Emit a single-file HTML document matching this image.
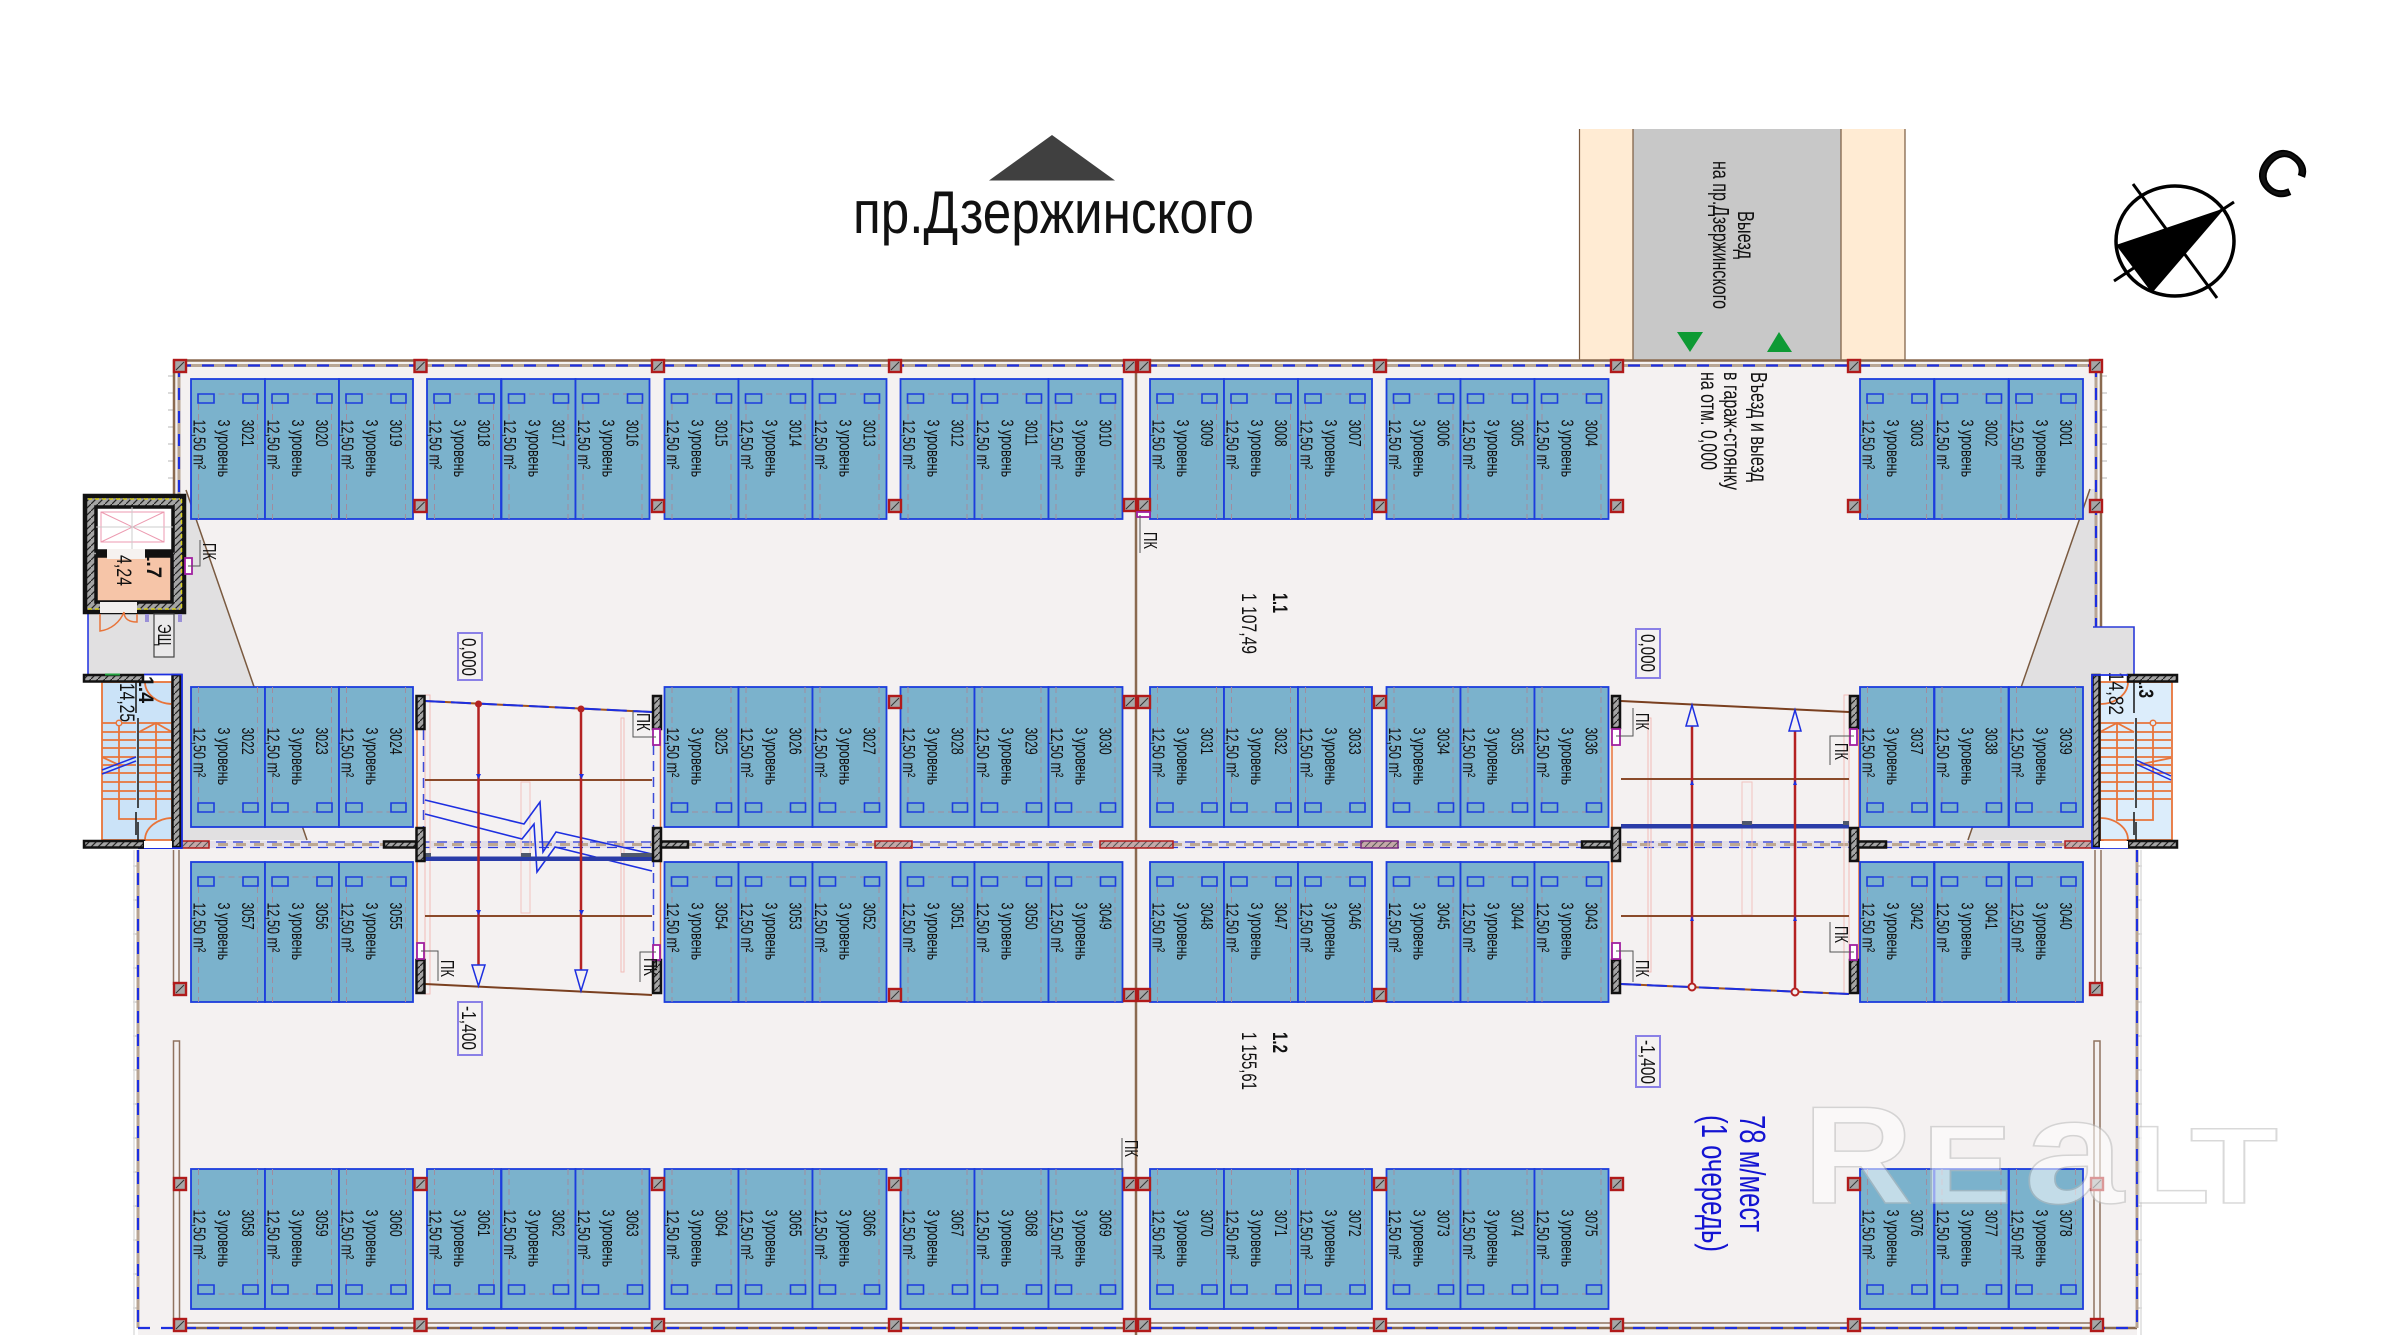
<!DOCTYPE html>
<html><head><meta charset="utf-8"><style>
html,body{margin:0;padding:0;background:#fff}
svg{display:block}
text{font-family:"Liberation Sans","DejaVu Sans",sans-serif;fill:#111}
.n,.l,.a{font-size:18px}
.n{transform:translate(51px,40.5px) rotate(90deg) scaleX(.68)}
.l{transform:translate(27px,40.5px) rotate(90deg) scaleX(.7)}
.a{transform:translate(2.5px,40.5px) rotate(90deg) scaleX(.7)}
</style></head><body>
<svg xmlns="http://www.w3.org/2000/svg" width="2400" height="1335" viewBox="0 0 2400 1335">
<defs>
<pattern id="h" width="7" height="7" patternUnits="userSpaceOnUse"><rect width="7" height="7" fill="#a4a4a4"/><path d="M0 7L7 0" stroke="#222" stroke-width="1.2"/></pattern>
<pattern id="hr" width="7" height="7" patternUnits="userSpaceOnUse"><rect width="7" height="7" fill="#c4a8a8"/><path d="M0 7L7 0" stroke="#555" stroke-width="1"/></pattern>
<g id="k"><rect x="1" y="1" width="12" height="12" fill="#a6a6a6" stroke="#b01a1a" stroke-width="2.4"/><path d="M3 11L11 3" stroke="#333"/></g>
<g id="t"><rect width="74" height="140" fill="#7BB2CC" stroke="#1c3ddd" stroke-width="1.8"/><path d="M7.5 15H66.5M7.5 15V140M66.5 15V140" fill="none" stroke="#a08c9e" stroke-dasharray="6 4"/><path d="M7 15h16v9H7zM52 15h15v9H52z" fill="none" stroke="#1c3ddd" stroke-width="1.6"/></g>
<g id="b"><rect width="74" height="140" fill="#7BB2CC" stroke="#1c3ddd" stroke-width="1.8"/><path d="M7.5 125H66.5M7.5 0V125M66.5 0V125" fill="none" stroke="#a08c9e" stroke-dasharray="6 4"/><path d="M7 116h16v9H7zM52 116h15v9H52z" fill="none" stroke="#1c3ddd" stroke-width="1.6"/></g>
</defs>
<rect width="2400" height="1335" fill="#fff"/>

<!-- road -->
<rect x="1579.500" y="129" width="53.500" height="231" fill="#FFEBD3"/>
<rect x="1841" y="129" width="64" height="231" fill="#FFEBD3"/>
<rect x="1633" y="129" width="208" height="231" fill="#C8C8C8"/>
<path d="M1579.500 129V360M1633 129V360M1841 129V360M1905 129V360" stroke="#7a5a40" stroke-width="1.200"/>
<path d="M1677 332H1703L1690 352Z" fill="#0e9a34"/><path d="M1767 352H1792L1779 332Z" fill="#0e9a34"/>

<!-- floor -->
<rect x="174" y="360" width="1927" height="488" fill="#F4F1F1"/>
<rect x="138" y="848" width="1999" height="487" fill="#F4F1F1"/>
<path d="M186 490L307 840H182V674H88V614H186Z" fill="#E1E0E1"/>
<path d="M2090 489L1968 840H2092V674H2134V627H2096V489Z" fill="#E1E0E1"/>

<!-- fringes -->
<path d="M168 376h6M168 393h6M168 410h6M168 427h6M168 444h6M168 461h6M168 478h6M2101 376h6M2101 393h6M2101 410h6M2101 427h6M2101 444h6M2101 461h6M2101 478h6M2137 866h5M2137 900h5M2137 934h5M2137 968h5M2137 1002h5M2137 1036h5M2137 1070h5M2137 1104h5M2137 1138h5M2137 1172h5M2137 1206h5M2137 1240h5M2137 1274h5M2137 1308h5M133 866h5M133 900h5M133 934h5M133 968h5M133 1002h5M133 1036h5M133 1070h5M133 1104h5M133 1138h5M133 1172h5M133 1206h5M133 1240h5M133 1274h5M133 1308h5" stroke="#cfcfcf" stroke-width="1.500"/>
<path d="M134 850V1335M2141 850V1335" stroke="#ddd" stroke-width="1.500"/>

<!-- outlines -->
<path d="M174 360.500H2102M174 360V494M2101 360V627M174 1328H2137" stroke="#8a6a50" stroke-width="2.500" fill="none"/>
<path d="M179 365.500H2096M179 365V494M2096 365V627M138 850V1328M2137 850V1328" stroke="#b8a594" stroke-width="3" fill="none"/>
<path d="M179 365.500H2096M179 365V494M2096 365V627M138 850V1328M2137 850V1328M138 1328H2137" stroke="#1d2fe0" stroke-width="2.200" fill="none" stroke-dasharray="12 11"/>
<path d="M2093 627H2134V674" stroke="#2a3ad8" stroke-width="1.600" fill="none"/>
<path d="M88 614V674" stroke="#1d2fe0" stroke-width="1.500"/>
<path d="M186 490L307 840M2090 489L1968 840" stroke="#7a5a40" stroke-width="1.500"/>
<path d="M1136 360V1335" stroke="#8a6a50" stroke-width="2.500"/>
<!-- double brown columns lines -->
<path d="M173.500 850V985M179 850V985M2095 850V985M2101 850V985M173.500 1328V1041H179.500V1328M2094 1328V1041H2100V1328M179 1323H2094" stroke="#8f7360" stroke-width="1.500" fill="none"/>

<!-- centre band -->
<rect x="182" y="841" width="1910" height="7" fill="#e4dfe8"/>
<path d="M182 844.500H2092" stroke="#bda892" stroke-width="3" stroke-dasharray="10 8"/>
<path d="M182 842H2092M182 847.500H2092" stroke="#2a3ad8" stroke-width="1.300" stroke-dasharray="10 7"/>
<g fill="url(#hr)" stroke="#b01a1a" stroke-width="1.500"><rect x="875" y="841" width="37" height="7"/><rect x="1100" y="841" width="73" height="7"/><rect x="1361" y="841" width="37" height="7" stroke="#7a2a80"/><rect x="173" y="841" width="36" height="7"/><rect x="2065" y="841" width="38" height="7"/></g>
<path d="M138 848H182" stroke="#1d2fe0" stroke-width="2"/>

<!-- left ramp -->
<g fill="none">
<path d="M417 695V994M660.500 695V994" stroke="#e8743a" stroke-width="1.500"/>
<rect x="425" y="695" width="5" height="299" stroke="#f2bcb8"/>
<rect x="521" y="782" width="9" height="131" stroke="#f2c4c0"/>
<rect x="621" y="718" width="3" height="254" stroke="#f2bcb8"/>
<path d="M423.500 730V827M653.500 745V945" stroke="#3c4bd8" stroke-width="1.500" stroke-dasharray="10 6"/>
<path d="M425 701L652 712" stroke="#a0521e" stroke-width="2"/><path d="M425 701L652 712" stroke="#1d2fe0" stroke-width="2" stroke-dasharray="20 6"/>
<path d="M425 984L652 995" stroke="#7a4020" stroke-width="2"/>
<path d="M425 780H652M425 916H652" stroke="#8a4a2a" stroke-width="2"/>
<path d="M425 800L524 824L540 802L543 852L556 832L652 854" stroke="#1d2fe0" stroke-width="1.600"/>
<path d="M425 814L522 839L534 824L537 872L555 847L652 871" stroke="#1d2fe0" stroke-width="1.600"/>
</g>
<rect x="425" y="856.500" width="227" height="4.500" fill="#2a3ca8"/>
<path d="M425 853h6v4h-6zM521 853h10v4h-10zM621 853h31v4h-31z" fill="#50586c"/>
<path d="M478.500 704V966M581 706V971" stroke="#b42222" stroke-width="2.500"/>
<circle cx="478.500" cy="704" r="3.500" fill="#b42222"/><circle cx="581" cy="709" r="3.500" fill="#b42222"/>
<path d="M472 965H485L478.500 986ZM575 970H587.500L581 991Z" fill="#F4F1F1" stroke="#1d2fe0" stroke-width="1.500"/>
<path d="M476 774h5l-2.500 5zM579 774h5l-2.500 5zM476 910h5l-2.500 5zM579 910h5l-2.500 5z" fill="#1d2fe0"/>

<!-- right ramp -->
<g fill="none">
<path d="M1612 730V960M1859 695V994" stroke="#e8743a" stroke-width="1.500"/>
<rect x="1648" y="718" width="3" height="254" stroke="#f2bcb8"/>
<rect x="1742" y="782" width="10" height="133" stroke="#f2c4c0"/>
<rect x="1844" y="695" width="5" height="299" stroke="#f2bcb8"/>
<path d="M1621 701L1849 712" stroke="#7a4020" stroke-width="2"/>
<path d="M1621 984L1849 994" stroke="#a0521e" stroke-width="2"/><path d="M1621 984L1849 994" stroke="#1d2fe0" stroke-width="2" stroke-dasharray="20 6"/>
<path d="M1621 779H1849M1621 916H1849" stroke="#8a4a2a" stroke-width="2"/>
</g>
<rect x="1621" y="824" width="228" height="4.500" fill="#2a3ca8"/>
<path d="M1742 821h10v4h-10zM1843 821h6v4h-6z" fill="#50586c"/>
<path d="M1692 725V987M1795 730V992" stroke="#b42222" stroke-width="2.500"/>
<circle cx="1692" cy="987" r="3.500" fill="#F4F1F1" stroke="#b42222" stroke-width="2"/><circle cx="1795" cy="992" r="3.500" fill="#F4F1F1" stroke="#b42222" stroke-width="2"/>
<path d="M1686 726H1698L1692 705ZM1789 731H1801L1795 710Z" fill="#F4F1F1" stroke="#1d2fe0" stroke-width="1.500"/>
<path d="M1690 785h4l-2-5zM1793 785h4l-2-5zM1690 921h4l-2-5zM1793 921h4l-2-5z" fill="#1d2fe0"/>

<!-- cells row 1 -->
<g transform="translate(191,379)"><use href="#t"/><text class="n">3021</text><text class="l">3 уровень</text><text class="a">12,50 m²</text></g>
<g transform="translate(265,379)"><use href="#t"/><text class="n">3020</text><text class="l">3 уровень</text><text class="a">12,50 m²</text></g>
<g transform="translate(339,379)"><use href="#t"/><text class="n">3019</text><text class="l">3 уровень</text><text class="a">12,50 m²</text></g>
<g transform="translate(427,379)"><use href="#t"/><text class="n">3018</text><text class="l">3 уровень</text><text class="a">12,50 m²</text></g>
<g transform="translate(501.500,379)"><use href="#t"/><text class="n">3017</text><text class="l">3 уровень</text><text class="a">12,50 m²</text></g>
<g transform="translate(575.500,379)"><use href="#t"/><text class="n">3016</text><text class="l">3 уровень</text><text class="a">12,50 m²</text></g>
<g transform="translate(664.500,379)"><use href="#t"/><text class="n">3015</text><text class="l">3 уровень</text><text class="a">12,50 m²</text></g>
<g transform="translate(738.500,379)"><use href="#t"/><text class="n">3014</text><text class="l">3 уровень</text><text class="a">12,50 m²</text></g>
<g transform="translate(812.500,379)"><use href="#t"/><text class="n">3013</text><text class="l">3 уровень</text><text class="a">12,50 m²</text></g>
<g transform="translate(900.500,379)"><use href="#t"/><text class="n">3012</text><text class="l">3 уровень</text><text class="a">12,50 m²</text></g>
<g transform="translate(974.500,379)"><use href="#t"/><text class="n">3011</text><text class="l">3 уровень</text><text class="a">12,50 m²</text></g>
<g transform="translate(1048.500,379)"><use href="#t"/><text class="n">3010</text><text class="l">3 уровень</text><text class="a">12,50 m²</text></g>
<g transform="translate(1150,379)"><use href="#t"/><text class="n">3009</text><text class="l">3 уровень</text><text class="a">12,50 m²</text></g>
<g transform="translate(1224,379)"><use href="#t"/><text class="n">3008</text><text class="l">3 уровень</text><text class="a">12,50 m²</text></g>
<g transform="translate(1298,379)"><use href="#t"/><text class="n">3007</text><text class="l">3 уровень</text><text class="a">12,50 m²</text></g>
<g transform="translate(1386.500,379)"><use href="#t"/><text class="n">3006</text><text class="l">3 уровень</text><text class="a">12,50 m²</text></g>
<g transform="translate(1460.500,379)"><use href="#t"/><text class="n">3005</text><text class="l">3 уровень</text><text class="a">12,50 m²</text></g>
<g transform="translate(1534.500,379)"><use href="#t"/><text class="n">3004</text><text class="l">3 уровень</text><text class="a">12,50 m²</text></g>
<g transform="translate(1860,379)"><use href="#t"/><text class="n">3003</text><text class="l">3 уровень</text><text class="a">12,50 m²</text></g>
<g transform="translate(1934.500,379)"><use href="#t"/><text class="n">3002</text><text class="l">3 уровень</text><text class="a">12,50 m²</text></g>
<g transform="translate(2009,379)"><use href="#t"/><text class="n">3001</text><text class="l">3 уровень</text><text class="a">12,50 m²</text></g>
<!-- row 2 -->
<g transform="translate(191,687)"><use href="#b"/><text class="n">3022</text><text class="l">3 уровень</text><text class="a">12,50 m²</text></g>
<g transform="translate(265,687)"><use href="#b"/><text class="n">3023</text><text class="l">3 уровень</text><text class="a">12,50 m²</text></g>
<g transform="translate(339,687)"><use href="#b"/><text class="n">3024</text><text class="l">3 уровень</text><text class="a">12,50 m²</text></g>
<g transform="translate(664.500,687)"><use href="#b"/><text class="n">3025</text><text class="l">3 уровень</text><text class="a">12,50 m²</text></g>
<g transform="translate(738.500,687)"><use href="#b"/><text class="n">3026</text><text class="l">3 уровень</text><text class="a">12,50 m²</text></g>
<g transform="translate(812.500,687)"><use href="#b"/><text class="n">3027</text><text class="l">3 уровень</text><text class="a">12,50 m²</text></g>
<g transform="translate(900.500,687)"><use href="#b"/><text class="n">3028</text><text class="l">3 уровень</text><text class="a">12,50 m²</text></g>
<g transform="translate(974.500,687)"><use href="#b"/><text class="n">3029</text><text class="l">3 уровень</text><text class="a">12,50 m²</text></g>
<g transform="translate(1048.500,687)"><use href="#b"/><text class="n">3030</text><text class="l">3 уровень</text><text class="a">12,50 m²</text></g>
<g transform="translate(1150,687)"><use href="#b"/><text class="n">3031</text><text class="l">3 уровень</text><text class="a">12,50 m²</text></g>
<g transform="translate(1224,687)"><use href="#b"/><text class="n">3032</text><text class="l">3 уровень</text><text class="a">12,50 m²</text></g>
<g transform="translate(1298,687)"><use href="#b"/><text class="n">3033</text><text class="l">3 уровень</text><text class="a">12,50 m²</text></g>
<g transform="translate(1386.500,687)"><use href="#b"/><text class="n">3034</text><text class="l">3 уровень</text><text class="a">12,50 m²</text></g>
<g transform="translate(1460.500,687)"><use href="#b"/><text class="n">3035</text><text class="l">3 уровень</text><text class="a">12,50 m²</text></g>
<g transform="translate(1534.500,687)"><use href="#b"/><text class="n">3036</text><text class="l">3 уровень</text><text class="a">12,50 m²</text></g>
<g transform="translate(1860,687)"><use href="#b"/><text class="n">3037</text><text class="l">3 уровень</text><text class="a">12,50 m²</text></g>
<g transform="translate(1934.500,687)"><use href="#b"/><text class="n">3038</text><text class="l">3 уровень</text><text class="a">12,50 m²</text></g>
<g transform="translate(2009,687)"><use href="#b"/><text class="n">3039</text><text class="l">3 уровень</text><text class="a">12,50 m²</text></g>
<!-- row 3 -->
<g transform="translate(191,862)"><use href="#t"/><text class="n">3057</text><text class="l">3 уровень</text><text class="a">12,50 m²</text></g>
<g transform="translate(265,862)"><use href="#t"/><text class="n">3056</text><text class="l">3 уровень</text><text class="a">12,50 m²</text></g>
<g transform="translate(339,862)"><use href="#t"/><text class="n">3055</text><text class="l">3 уровень</text><text class="a">12,50 m²</text></g>
<g transform="translate(664.500,862)"><use href="#t"/><text class="n">3054</text><text class="l">3 уровень</text><text class="a">12,50 m²</text></g>
<g transform="translate(738.500,862)"><use href="#t"/><text class="n">3053</text><text class="l">3 уровень</text><text class="a">12,50 m²</text></g>
<g transform="translate(812.500,862)"><use href="#t"/><text class="n">3052</text><text class="l">3 уровень</text><text class="a">12,50 m²</text></g>
<g transform="translate(900.500,862)"><use href="#t"/><text class="n">3051</text><text class="l">3 уровень</text><text class="a">12,50 m²</text></g>
<g transform="translate(974.500,862)"><use href="#t"/><text class="n">3050</text><text class="l">3 уровень</text><text class="a">12,50 m²</text></g>
<g transform="translate(1048.500,862)"><use href="#t"/><text class="n">3049</text><text class="l">3 уровень</text><text class="a">12,50 m²</text></g>
<g transform="translate(1150,862)"><use href="#t"/><text class="n">3048</text><text class="l">3 уровень</text><text class="a">12,50 m²</text></g>
<g transform="translate(1224,862)"><use href="#t"/><text class="n">3047</text><text class="l">3 уровень</text><text class="a">12,50 m²</text></g>
<g transform="translate(1298,862)"><use href="#t"/><text class="n">3046</text><text class="l">3 уровень</text><text class="a">12,50 m²</text></g>
<g transform="translate(1386.500,862)"><use href="#t"/><text class="n">3045</text><text class="l">3 уровень</text><text class="a">12,50 m²</text></g>
<g transform="translate(1460.500,862)"><use href="#t"/><text class="n">3044</text><text class="l">3 уровень</text><text class="a">12,50 m²</text></g>
<g transform="translate(1534.500,862)"><use href="#t"/><text class="n">3043</text><text class="l">3 уровень</text><text class="a">12,50 m²</text></g>
<g transform="translate(1860,862)"><use href="#t"/><text class="n">3042</text><text class="l">3 уровень</text><text class="a">12,50 m²</text></g>
<g transform="translate(1934.500,862)"><use href="#t"/><text class="n">3041</text><text class="l">3 уровень</text><text class="a">12,50 m²</text></g>
<g transform="translate(2009,862)"><use href="#t"/><text class="n">3040</text><text class="l">3 уровень</text><text class="a">12,50 m²</text></g>
<!-- row 4 -->
<g transform="translate(191,1169)"><use href="#b"/><text class="n">3058</text><text class="l">3 уровень</text><text class="a">12,50 m²</text></g>
<g transform="translate(265,1169)"><use href="#b"/><text class="n">3059</text><text class="l">3 уровень</text><text class="a">12,50 m²</text></g>
<g transform="translate(339,1169)"><use href="#b"/><text class="n">3060</text><text class="l">3 уровень</text><text class="a">12,50 m²</text></g>
<g transform="translate(427,1169)"><use href="#b"/><text class="n">3061</text><text class="l">3 уровень</text><text class="a">12,50 m²</text></g>
<g transform="translate(501.500,1169)"><use href="#b"/><text class="n">3062</text><text class="l">3 уровень</text><text class="a">12,50 m²</text></g>
<g transform="translate(575.500,1169)"><use href="#b"/><text class="n">3063</text><text class="l">3 уровень</text><text class="a">12,50 m²</text></g>
<g transform="translate(664.500,1169)"><use href="#b"/><text class="n">3064</text><text class="l">3 уровень</text><text class="a">12,50 m²</text></g>
<g transform="translate(738.500,1169)"><use href="#b"/><text class="n">3065</text><text class="l">3 уровень</text><text class="a">12,50 m²</text></g>
<g transform="translate(812.500,1169)"><use href="#b"/><text class="n">3066</text><text class="l">3 уровень</text><text class="a">12,50 m²</text></g>
<g transform="translate(900.500,1169)"><use href="#b"/><text class="n">3067</text><text class="l">3 уровень</text><text class="a">12,50 m²</text></g>
<g transform="translate(974.500,1169)"><use href="#b"/><text class="n">3068</text><text class="l">3 уровень</text><text class="a">12,50 m²</text></g>
<g transform="translate(1048.500,1169)"><use href="#b"/><text class="n">3069</text><text class="l">3 уровень</text><text class="a">12,50 m²</text></g>
<g transform="translate(1150,1169)"><use href="#b"/><text class="n">3070</text><text class="l">3 уровень</text><text class="a">12,50 m²</text></g>
<g transform="translate(1224,1169)"><use href="#b"/><text class="n">3071</text><text class="l">3 уровень</text><text class="a">12,50 m²</text></g>
<g transform="translate(1298,1169)"><use href="#b"/><text class="n">3072</text><text class="l">3 уровень</text><text class="a">12,50 m²</text></g>
<g transform="translate(1386.500,1169)"><use href="#b"/><text class="n">3073</text><text class="l">3 уровень</text><text class="a">12,50 m²</text></g>
<g transform="translate(1460.500,1169)"><use href="#b"/><text class="n">3074</text><text class="l">3 уровень</text><text class="a">12,50 m²</text></g>
<g transform="translate(1534.500,1169)"><use href="#b"/><text class="n">3075</text><text class="l">3 уровень</text><text class="a">12,50 m²</text></g>
<g transform="translate(1860,1169)"><use href="#b"/><text class="n">3076</text><text class="l">3 уровень</text><text class="a">12,50 m²</text></g>
<g transform="translate(1934.500,1169)"><use href="#b"/><text class="n">3077</text><text class="l">3 уровень</text><text class="a">12,50 m²</text></g>
<g transform="translate(2009,1169)"><use href="#b"/><text class="n">3078</text><text class="l">3 уровень</text><text class="a">12,50 m²</text></g>

<!-- columns -->
<use href="#k" x="173" y="359"/><use href="#k" x="413.500" y="359"/><use href="#k" x="651" y="359"/><use href="#k" x="888" y="359"/><use href="#k" x="1123" y="359"/><use href="#k" x="1137" y="359"/><use href="#k" x="1373" y="359"/><use href="#k" x="1610" y="359"/><use href="#k" x="1847" y="359"/><use href="#k" x="2089" y="359"/>
<use href="#k" x="413.500" y="499"/><use href="#k" x="651" y="499"/><use href="#k" x="888" y="499"/><use href="#k" x="1123" y="498"/><use href="#k" x="1137" y="498"/><use href="#k" x="1373" y="499"/><use href="#k" x="1610" y="499"/><use href="#k" x="1847" y="499"/><use href="#k" x="2089" y="499"/>
<use href="#k" x="888" y="695"/><use href="#k" x="1123" y="695"/><use href="#k" x="1137" y="695"/><use href="#k" x="1373" y="695"/>
<use href="#k" x="888" y="988"/><use href="#k" x="1123" y="988"/><use href="#k" x="1137" y="988"/><use href="#k" x="1373" y="988"/>
<use href="#k" x="173" y="982"/><use href="#k" x="2089" y="982"/>
<use href="#k" x="173" y="1177"/><use href="#k" x="413.500" y="1177"/><use href="#k" x="651" y="1177"/><use href="#k" x="888" y="1177"/><use href="#k" x="1123" y="1177"/><use href="#k" x="1137" y="1177"/><use href="#k" x="1373" y="1177"/><use href="#k" x="1610" y="1177"/><use href="#k" x="1847" y="1177"/><use href="#k" x="2090" y="1177"/>
<use href="#k" x="173" y="1318"/><use href="#k" x="413.500" y="1318"/><use href="#k" x="651" y="1318"/><use href="#k" x="888" y="1318"/><use href="#k" x="1123" y="1318"/><use href="#k" x="1137" y="1318"/><use href="#k" x="1373" y="1318"/><use href="#k" x="1610" y="1318"/><use href="#k" x="1847" y="1318"/><use href="#k" x="2090" y="1318"/>

<!-- ramp walls -->
<g fill="url(#h)" stroke="#111" stroke-width="2.500">
<rect x="416.500" y="696" width="8" height="33"/><rect x="416.500" y="828" width="8" height="33"/><rect x="416.500" y="960" width="8" height="33"/>
<rect x="653" y="696" width="8" height="33"/><rect x="653" y="828" width="8" height="33"/><rect x="653" y="960" width="8" height="33"/>
<rect x="1612" y="696" width="8" height="32"/><rect x="1612" y="828" width="8" height="33"/><rect x="1612" y="960" width="8" height="33"/>
<rect x="1850" y="696" width="8" height="32"/><rect x="1850" y="828" width="8" height="33"/><rect x="1850" y="960" width="8" height="33"/>
<rect x="384" y="841.500" width="32" height="6"/><rect x="661" y="841.500" width="27" height="6"/><rect x="1582" y="841.500" width="29" height="6"/><rect x="1858" y="841.500" width="28" height="6"/>
</g>

<!-- left stair -->
<rect x="102" y="682" width="70" height="158" fill="#CBE3F8"/>
<g fill="none" stroke="#e8743a" stroke-width="1.800">
<rect x="102" y="682" width="70" height="158"/>
<path d="M102 723H136M102 732H136M102 740H136M102 748H136M102 757H136M102 765H136M102 773H136M102 782H136M102 791H136M102 799H136"/>
<path d="M139 723H172M139 732H172M139 740H172M139 748H172M139 757H172M139 765H172M139 773H172M139 782H172M139 791H172M139 799H172"/>
<path d="M119 723V819H156V723M139 732L156 723L172 732M102 757L119 765"/>
<path d="M145 682A28 22 0 0 0 172 704M145 840A28 22 0 0 1 172 818"/>
</g>
<circle cx="119" cy="723" r="2.800" fill="#CBE3F8" stroke="#e8743a" stroke-width="1.500"/>
<path d="M102 774L136 761M102 770L136 757" stroke="#1d2fe0" stroke-width="1.500"/>
<path d="M136 682V713M138 718V808M136 835V812M138 822V840" stroke="#222" stroke-width="1.600"/>
<text transform="translate(120,683) rotate(90)" font-size="21" textLength="39" lengthAdjust="spacingAndGlyphs">14,25</text>
<text transform="translate(139,676) rotate(90)" font-size="21" font-weight="bold" textLength="27" lengthAdjust="spacingAndGlyphs">1.4</text>
<g fill="url(#h)" stroke="#111" stroke-width="2.500">
<rect x="84" y="675" width="59" height="6.500"/><rect x="84" y="841" width="60" height="6.500"/><rect x="172.500" y="675" width="8" height="172"/>
</g>
<path d="M144 674.500H182V848H144" fill="none" stroke="#1d2fe0" stroke-width="1.800"/>
<rect x="144" y="841" width="28" height="7" fill="#fff"/>
<path d="M105 674.500H120" stroke="#22a040" stroke-width="2"/>

<!-- right stair -->
<rect x="2100" y="682" width="72" height="158" fill="#DCEDFB"/>
<g fill="none" stroke="#e8743a" stroke-width="1.800">
<rect x="2100" y="682" width="72" height="158"/>
<path d="M2100 723H2134M2100 732H2134M2100 740H2134M2100 748H2134M2100 757H2134M2100 765H2134M2100 773H2134M2100 782H2134M2100 791H2134M2100 799H2134"/>
<path d="M2137 723H2171M2137 732H2171M2137 740H2171M2137 748H2171M2137 757H2171M2137 765H2171M2137 773H2171M2137 782H2171M2137 791H2171M2137 799H2171"/>
<path d="M2117 723V820H2153V723M2100 732L2117 723L2134 732M2171 758L2137 765"/>
<path d="M2128 682A28 22 0 0 1 2100 704M2100 818A28 22 0 0 1 2128 840"/>
</g>
<circle cx="2153" cy="723" r="2.800" fill="#DCEDFB" stroke="#e8743a" stroke-width="1.500"/>
<path d="M2136 760L2171 776M2136 764L2171 780" stroke="#1d2fe0" stroke-width="1.500"/>
<path d="M2134 682V713M2136 718V808M2134 812V835M2136 822V840" stroke="#222" stroke-width="1.600"/>
<text transform="translate(2109,672) rotate(90)" font-size="21" textLength="43" lengthAdjust="spacingAndGlyphs">14,82</text>
<text transform="translate(2139,676) rotate(90)" font-size="21" font-weight="bold" textLength="22" lengthAdjust="spacingAndGlyphs">1.3</text>
<g fill="url(#h)" stroke="#111" stroke-width="2.500">
<rect x="2128" y="675" width="49" height="6.500"/><rect x="2128" y="841" width="49" height="6.500"/><rect x="2092.500" y="675" width="7" height="172"/>
</g>
<path d="M2128 675H2092V848H2128" fill="none" stroke="#1d2fe0" stroke-width="1.800"/>
<rect x="2100" y="841" width="28" height="7" fill="#fff"/>

<!-- lift shaft -->
<rect x="85" y="496" width="99" height="116" fill="url(#h)" stroke="#111" stroke-width="4.500"/>
<path d="M88 499H180M88 609H180M181.500 499V609" fill="none" stroke="#d8d020" stroke-width="1.500" stroke-dasharray="4 3"/>
<rect x="96" y="507" width="77" height="44" fill="#fff" stroke="#111" stroke-width="3.500"/>
<path d="M101 512H164V542H101ZM101 512L164 542M164 512L101 542" fill="none" stroke="#ec9ab0" stroke-width="1"/>
<path d="M132 507V550M96 527H173" stroke="#ccc" stroke-width="1"/>
<rect x="96" y="556" width="76" height="46" fill="#F6C5A8" stroke="#111" stroke-width="3.500"/>
<rect x="107" y="549" width="38" height="10" fill="#f6f2f0"/>
<path d="M96 553H107M145 553H173" stroke="#111" stroke-width="5"/>
<rect x="100" y="602" width="37" height="11" fill="#f2efed"/>
<text transform="translate(117,555) rotate(90)" font-size="21" textLength="31" lengthAdjust="spacingAndGlyphs">4,24</text>
<text transform="translate(147,550) rotate(90)" font-size="21" font-weight="bold" textLength="28" lengthAdjust="spacingAndGlyphs">1.7</text>
<path d="M100 614V631A30 30 0 0 0 124 612M137 614V622C128 622 124 618 124 612" fill="none" stroke="#e8743a" stroke-width="1.500"/>
<path d="M145 614h4v8h-4zM178 614h4v8h-4z" fill="#9a90d8"/>
<rect x="154" y="614" width="20" height="43" fill="#eae9ea" stroke="#444" stroke-width="1.200"/>
<text transform="translate(158,624) rotate(90)" font-size="18" textLength="22" lengthAdjust="spacingAndGlyphs">ЭЩ</text>

<!-- PK markers -->
<g fill="#fff" stroke="#a020a0" stroke-width="1.800">
<rect x="185" y="558" width="7" height="16"/><rect x="1137" y="512" width="13" height="5"/>
<rect x="417" y="943" width="7" height="16"/><rect x="653" y="729" width="7" height="16"/><rect x="653" y="945" width="7" height="15"/>
<rect x="1612" y="729" width="8" height="16"/><rect x="1612" y="943" width="8" height="16"/><rect x="1850" y="729" width="7" height="16"/><rect x="1850" y="945" width="7" height="15"/>
</g>
<path d="M188 566H200V540M1140 515V553M421 951H438V981M656 737H633V710M656 952H640V982M1616 736H1633V708M1616 951H1633V982M1854 736H1830V765M1854 952H1830V922" fill="none" stroke="#555" stroke-width="1"/>
<text transform="translate(203,543) rotate(90)" font-size="18" textLength="17" lengthAdjust="spacingAndGlyphs">ПК</text>
<text transform="translate(1144,532) rotate(90)" font-size="18" textLength="17" lengthAdjust="spacingAndGlyphs">ПК</text>
<text transform="translate(637,713) rotate(90)" font-size="18" textLength="18" lengthAdjust="spacingAndGlyphs">ПК</text>
<text transform="translate(441,960) rotate(90)" font-size="18" textLength="17" lengthAdjust="spacingAndGlyphs">ПК</text>
<text transform="translate(644,958) rotate(90)" font-size="18" textLength="18" lengthAdjust="spacingAndGlyphs">ПК</text>
<text transform="translate(1636,713) rotate(90)" font-size="18" textLength="17" lengthAdjust="spacingAndGlyphs">ПК</text>
<text transform="translate(1636,960) rotate(90)" font-size="18" textLength="17" lengthAdjust="spacingAndGlyphs">ПК</text>
<text transform="translate(1835,743) rotate(90)" font-size="18" textLength="17" lengthAdjust="spacingAndGlyphs">ПК</text>
<text transform="translate(1835,926) rotate(90)" font-size="18" textLength="17" lengthAdjust="spacingAndGlyphs">ПК</text>
<text transform="translate(1125,1140) rotate(90)" font-size="18" textLength="17" lengthAdjust="spacingAndGlyphs">ПК</text>
<path d="M1122 1138V1172" stroke="#555"/>

<!-- level tags -->
<g fill="#F4F1F1" stroke="#8a80e6" stroke-width="2"><rect x="458" y="633" width="24" height="47"/><rect x="458" y="1002" width="24" height="53"/><rect x="1636" y="629" width="24" height="49"/><rect x="1636" y="1036" width="24" height="51"/></g>
<text transform="translate(462,638) rotate(90)" font-size="20" textLength="38" lengthAdjust="spacingAndGlyphs">0,000</text>
<text transform="translate(462,1006) rotate(90)" font-size="20" textLength="44" lengthAdjust="spacingAndGlyphs">-1,400</text>
<text transform="translate(1641,634) rotate(90)" font-size="20" textLength="38" lengthAdjust="spacingAndGlyphs">0,000</text>
<text transform="translate(1641,1040) rotate(90)" font-size="20" textLength="44" lengthAdjust="spacingAndGlyphs">-1,400</text>

<!-- room labels -->
<text transform="translate(1273,593) rotate(90)" font-size="21" font-weight="bold" textLength="20" lengthAdjust="spacingAndGlyphs">1.1</text>
<text transform="translate(1242,593) rotate(90)" font-size="21" textLength="61" lengthAdjust="spacingAndGlyphs">1 107,49</text>
<text transform="translate(1273,1032) rotate(90)" font-size="21" font-weight="bold" textLength="21" lengthAdjust="spacingAndGlyphs">1.2</text>
<text transform="translate(1242,1032) rotate(90)" font-size="21" textLength="58" lengthAdjust="spacingAndGlyphs">1 155,61</text>

<!-- road text -->
<text transform="translate(1738,211) rotate(90)" font-size="23" textLength="48" lengthAdjust="spacingAndGlyphs">Выезд</text>
<text transform="translate(1713,161) rotate(90)" font-size="23" textLength="148" lengthAdjust="spacingAndGlyphs">на пр.Дзержинского</text>
<text transform="translate(1751,372) rotate(90)" font-size="23" textLength="110" lengthAdjust="spacingAndGlyphs">Въезд и выезд</text>
<text transform="translate(1724,372) rotate(90)" font-size="23" textLength="118" lengthAdjust="spacingAndGlyphs">в гараж-стоянку</text>
<text transform="translate(1701,372) rotate(90)" font-size="23" textLength="98" lengthAdjust="spacingAndGlyphs">на отм. 0,000</text>

<!-- blue text -->
<text transform="translate(1740,1115) rotate(90)" font-size="36" textLength="117" lengthAdjust="spacingAndGlyphs" style="fill:#1414d2">78 м/мест</text>
<text transform="translate(1702,1115) rotate(90)" font-size="36" textLength="137" lengthAdjust="spacingAndGlyphs" style="fill:#1414d2">(1 очередь)</text>

<!-- title -->
<path d="M989 180.500L1052 135L1115 180.500Z" fill="#404040"/>
<text x="853" y="233" font-size="60" textLength="401" lengthAdjust="spacingAndGlyphs">пр.Дзержинского</text>

<!-- compass -->
<ellipse cx="2175" cy="241" rx="59" ry="55" fill="#fff" stroke="#000" stroke-width="3.500"/>
<path d="M2133 184L2217 298M2234 202L2114 281" stroke="#000" stroke-width="3"/>
<path d="M2225 208L2116 245L2152 293Z" fill="#000"/>
<text transform="translate(2282,172) rotate(40)" text-anchor="middle" dy=".36em" font-size="64" style="stroke:#000;stroke-width:1.800">С</text>

<!-- watermark -->
<g font-weight="bold" style="opacity:.55">
<text x="1803" y="1203" font-size="139" textLength="110" lengthAdjust="spacingAndGlyphs" style="fill:#fff;stroke:#bbb;stroke-width:1.500">R</text>
<text x="1922" y="1203" font-size="111" textLength="90" lengthAdjust="spacingAndGlyphs" style="fill:#fff;stroke:#bbb;stroke-width:1.500">E</text>
<text x="2024" y="1203" font-size="150" textLength="100" lengthAdjust="spacingAndGlyphs" style="fill:#fff;stroke:#bbb;stroke-width:1.500">a</text>
<text x="2130" y="1203" font-size="111" textLength="80" lengthAdjust="spacingAndGlyphs" style="fill:#fff;stroke:#bbb;stroke-width:1.500">L</text>
<text x="2190" y="1203" font-size="108" textLength="88" lengthAdjust="spacingAndGlyphs" style="fill:#fff;stroke:#bbb;stroke-width:1.500">T</text>
</g>
</svg>
</body></html>
